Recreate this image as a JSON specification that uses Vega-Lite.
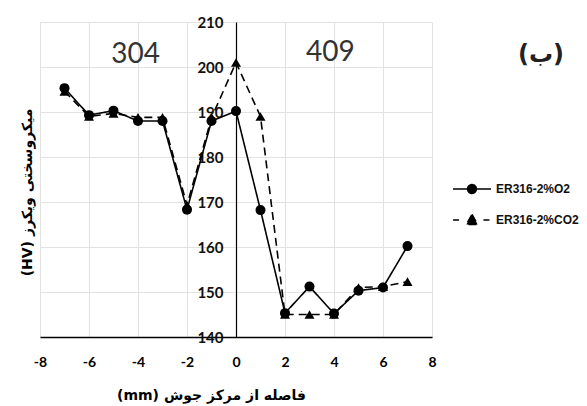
{
  "$schema": "https://vega.github.io/schema/vega-lite/v6.json",
  "width": 392,
  "height": 315,
  "autosize": {"type": "none"},
  "padding": {"left": 40, "top": 22, "right": 155, "bottom": 69},
  "background": "white",
  "config": {"view": {"stroke": null}, "font": "Lato"},
  "datasets": {
    "hv": [
      {"x": -7, "hv": 195.3, "series": "ER316-2%O2"},
      {"x": -6, "hv": 189.3, "series": "ER316-2%O2"},
      {"x": -5, "hv": 190.3, "series": "ER316-2%O2"},
      {"x": -4, "hv": 188, "series": "ER316-2%O2"},
      {"x": -3, "hv": 188, "series": "ER316-2%O2"},
      {"x": -2, "hv": 168.3, "series": "ER316-2%O2"},
      {"x": -1, "hv": 188, "series": "ER316-2%O2"},
      {"x": 0, "hv": 190.2, "series": "ER316-2%O2"},
      {"x": 1, "hv": 168.2, "series": "ER316-2%O2"},
      {"x": 2, "hv": 145.3, "series": "ER316-2%O2"},
      {"x": 3, "hv": 151.2, "series": "ER316-2%O2"},
      {"x": 4, "hv": 145.2, "series": "ER316-2%O2"},
      {"x": 5, "hv": 150.3, "series": "ER316-2%O2"},
      {"x": 6, "hv": 151, "series": "ER316-2%O2"},
      {"x": 7, "hv": 160.2, "series": "ER316-2%O2"},
      {"x": -7, "hv": 194.6, "series": "ER316-2%CO2"},
      {"x": -6, "hv": 189, "series": "ER316-2%CO2"},
      {"x": -5, "hv": 189.7, "series": "ER316-2%CO2"},
      {"x": -4, "hv": 188.8, "series": "ER316-2%CO2"},
      {"x": -3, "hv": 188.8, "series": "ER316-2%CO2"},
      {"x": -2, "hv": 169.3, "series": "ER316-2%CO2"},
      {"x": -1, "hv": 188.7, "series": "ER316-2%CO2"},
      {"x": 0, "hv": 201, "series": "ER316-2%CO2"},
      {"x": 1, "hv": 189, "series": "ER316-2%CO2"},
      {"x": 2, "hv": 145, "series": "ER316-2%CO2"},
      {"x": 3, "hv": 145, "series": "ER316-2%CO2"},
      {"x": 4, "hv": 145, "series": "ER316-2%CO2"},
      {"x": 5, "hv": 151, "series": "ER316-2%CO2"},
      {"x": 6, "hv": 151.2, "series": "ER316-2%CO2"},
      {"x": 7, "hv": 152.3, "series": "ER316-2%CO2"}
    ],
    "labels": [
      {"x": -4.1, "y": 202.7, "label": "304"},
      {"x": 3.85, "y": 203.1, "label": "409"}
    ],
    "tag": [
      {"x": 12.45, "y": 202.7, "label": "(ب)"}
    ]
  },
  "layer": [
    {
      "data": {"name": "hv"},
      "mark": {"type": "line", "color": "black", "strokeWidth": 1.6},
      "encoding": {
        "x": {
          "field": "x", "type": "quantitative",
          "scale": {"domain": [-8, 8], "nice": false},
          "axis": {
            "values": [-8, -6, -4, -2, 0, 2, 4, 6, 8],
            "labelExpr": "'' + datum.value",
            "domainColor": "black", "domainWidth": 1.5,
            "ticks": false, "labelFlush": false,
            "labelFontSize": 14, "labelFontWeight": "bold", "labelColor": "black",
            "labelPadding": 18,
            "gridColor": "#e2e2e2",
            "title": "(mm) فاصله از مرکز جوش",
            "titleFont": "DejaVu Sans", "titleFontSize": 14, "titleFontWeight": "bold",
            "titleColor": "black",
            "titleX": 171, "titleY": 51
          }
        },
        "y": {
          "field": "hv", "type": "quantitative",
          "scale": {"domain": [140, 210], "nice": false, "zero": false},
          "axis": {
            "values": [140, 150, 160, 170, 180, 190, 200, 210],
            "offset": -196,
            "domainColor": "black", "domainWidth": 1.2,
            "ticks": false,
            "labelFontSize": 15, "labelFontWeight": "bold", "labelColor": "#111",
            "labelPadding": 13,
            "gridColor": "#e2e2e2",
            "title": "(HV) میکروسختی ویکرز",
            "titleFont": "DejaVu Sans", "titleFontSize": 14, "titleFontWeight": "bold",
            "titleColor": "black",
            "titleX": -202, "titleY": 170
          }
        },
        "strokeDash": {
          "field": "series", "type": "nominal",
          "scale": {"domain": ["ER316-2%O2", "ER316-2%CO2"], "range": [[1, 0], [8, 5]]},
          "legend": {
            "title": null,
            "orient": "none", "legendX": 412, "legendY": 147,
            "padding": 0, "rowPadding": 3, "offset": 0,
            "symbolSize": 1444,
            "symbolType": {"expr": "datum.value === 'ER316-2%O2' ? 'M-1,0L1,0M0.23,0A0.23,0.23,0,1,1,-0.23,0A0.23,0.23,0,1,1,0.23,0Z' : 'M-1,0L-0.68,0M0.6,0L0.92,0M0,-0.3L0.3,0.24L-0.3,0.24Z'"},
            "symbolFillColor": "black",
            "symbolStrokeColor": "black",
            "symbolStrokeWidth": 1.6,
            "symbolDash": [1, 0],
            "symbolOpacity": 1,
            "labelFontSize": 12, "labelFontWeight": "bold", "labelColor": "#111",
            "labelFont": "Liberation Sans",
            "labelOffset": 4
          }
        }
      }
    },
    {
      "data": {"name": "hv"},
      "transform": [{"filter": "datum.series === 'ER316-2%O2'"}],
      "mark": {"type": "point", "shape": "circle", "filled": true, "color": "black", "opacity": 1, "size": 100},
      "encoding": {
        "x": {"field": "x", "type": "quantitative"},
        "y": {"field": "hv", "type": "quantitative"}
      }
    },
    {
      "data": {"name": "hv"},
      "transform": [{"filter": "datum.series === 'ER316-2%CO2'"}],
      "mark": {"type": "point", "shape": "triangle-up", "filled": true, "color": "black", "opacity": 1, "size": 100},
      "encoding": {
        "x": {"field": "x", "type": "quantitative"},
        "y": {"field": "hv", "type": "quantitative"}
      }
    },
    {
      "data": {"name": "labels"},
      "mark": {"type": "text", "fontSize": 28, "color": "#333", "font": "Lato"},
      "encoding": {
        "x": {"field": "x", "type": "quantitative"},
        "y": {"field": "y", "type": "quantitative"},
        "text": {"field": "label"}
      }
    },
    {
      "data": {"name": "tag"},
      "mark": {"type": "text", "fontSize": 24, "fontWeight": "bold", "color": "#222", "font": "DejaVu Sans"},
      "encoding": {
        "x": {"field": "x", "type": "quantitative"},
        "y": {"field": "y", "type": "quantitative"},
        "text": {"field": "label"}
      }
    }
  ]
}
